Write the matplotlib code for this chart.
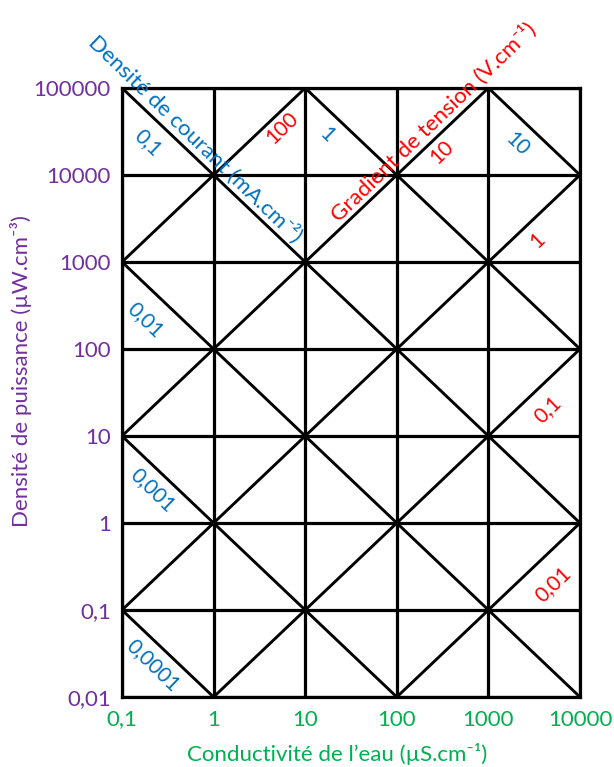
import numpy as np
import matplotlib.pyplot as plt

plt.rcParams['font.family'] = ['Lato', 'DejaVu Sans']

# axes decades
sigma_ticks = [0.1, 1, 10, 100, 1000, 10000]
sigma_labels = ["0,1", "1", "10", "100", "1000", "10000"]
power_ticks = [0.01, 0.1, 1, 10, 100, 1000, 10000, 100000]
power_labels = ["0,01", "0,1", "1", "10", "100", "1000", "10000", "100000"]

# iso-lines: current density (mA/cm2) and voltage gradient (V/cm)
current_vals = [0.0001, 0.001, 0.01, 0.1, 1, 10]
current_labels = ["0,0001", "0,001", "0,01", "0,1", "1", "10"]
gradient_vals = [0.01, 0.1, 1, 10, 100]
gradient_labels = ["0,01", "0,1", "1", "10", "100"]

purple = "#7030A0"
green = "#00B050"
blue = "#0070C0"
red = "#FF0000"

fig = plt.figure(figsize=(6.14, 7.67), dpi=100)
ax = fig.add_axes([122 / 614, 70 / 767, 458 / 614, 609 / 767])
ax.set_xscale("log")
ax.set_yscale("log")
ax.set_xlim(0.1, 10000)
ax.set_ylim(0.01, 100000)

for s in sigma_ticks:
    ax.axvline(s, color="black", lw=2.3, zorder=2)
for p in power_ticks:
    ax.axhline(p, color="black", lw=2.3, zorder=2)

sig = np.logspace(-3, 6, 50)
for j in current_vals:
    ax.plot(sig, j ** 2 / sig * 1e6, color="black", lw=2.1, zorder=2)  # P = J^2 / sigma
for e in gradient_vals:
    ax.plot(sig, sig * e ** 2, color="black", lw=2.1, zorder=2)  # P = sigma * E^2

for sp in ax.spines.values():
    sp.set_linewidth(2.3)

ax.set_xticks(sigma_ticks)
ax.set_xticklabels(sigma_labels)
ax.set_yticks(power_ticks)
ax.set_yticklabels(power_labels)
ax.minorticks_off()
ax.tick_params(axis="both", length=0, labelsize=16)
ax.tick_params(axis="x", colors=green, pad=9)
ax.tick_params(axis="y", colors=purple, pad=8)

ax.set_xlabel("Conductivité de l\u2019eau (µS.cm\u207b\u00b9)", color=green, fontsize=16)
ax.xaxis.set_label_coords(0.47, -0.075)
ax.set_ylabel("Densité de puissance (µW.cm\u207b\u00b3)", color=purple, fontsize=16)
ax.yaxis.set_label_coords(-0.197, 0.535)

# label positions in decades (log10 sigma, log10 P)
cur_pos = {"0,1": (-0.72, 4.37), "0,01": (-0.75, 2.33), "0,001": (-0.67, 0.38),
           "0,0001": (-0.66, -1.63), "1": (1.24, 4.46), "10": (3.31, 4.35)}
grad_pos = {"100": (0.75, 4.54), "10": (2.49, 4.26), "1": (3.54, 3.25),
            "0,1": (3.65, 1.30), "0,01": (3.70, -0.71)}

for lab in current_labels:
    lx, ly = cur_pos[lab]
    ax.text(10 ** lx, 10 ** ly, lab, color=blue, fontsize=15, rotation=-44,
            ha="center", va="center", rotation_mode="anchor", zorder=3)
for lab in gradient_labels:
    lx, ly = grad_pos[lab]
    ax.text(10 ** lx, 10 ** ly, lab, color=red, fontsize=15, rotation=44,
            ha="center", va="center", rotation_mode="anchor", zorder=3)

ax.text(10 ** -0.2, 10 ** 4.42, "Densité de courant (mA.cm\u207b\u00b2)", color=blue,
        fontsize=16, rotation=-44, ha="center", va="center",
        rotation_mode="anchor", clip_on=False, zorder=3)
ax.text(10 ** 2.4, 10 ** 4.61, "Gradient de tension (V.cm\u207b\u00b9)", color=red,
        fontsize=16, rotation=44, ha="center", va="center",
        rotation_mode="anchor", clip_on=False, zorder=3)

fig.savefig("out.png", dpi=100)
